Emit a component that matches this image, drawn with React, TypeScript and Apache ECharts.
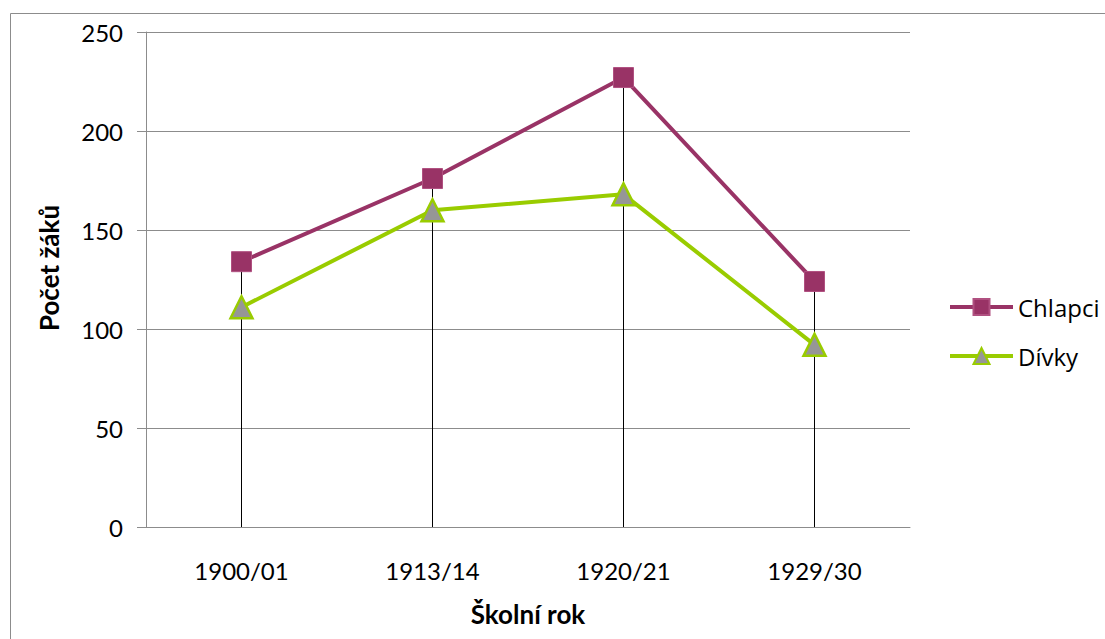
import React, { useEffect, useRef } from "react";
import * as echarts from "echarts";

const categories = ["1900/01", "1913/14", "1920/21", "1929/30"];
const chlapci = [134, 176, 227, 124];
const divky = [111, 160, 168, 92];
const yTicks = { min: 0, max: 250, interval: 50 };
const xTitle = "Školní rok";
const yTitle = "Počet žáků";

export default function App() {
  const ref = useRef<HTMLDivElement>(null);
  useEffect(() => {
    if (!ref.current) return;
    const chart = echarts.init(ref.current, null, { renderer: "svg" });
    const dropTop = chlapci.map((v, i) => Math.max(v, divky[i]));
    const font = "Lato, 'Open Sans', sans-serif";
    chart.setOption({
      animation: false,
      backgroundColor: "#ffffff",
      textStyle: { fontFamily: font },
      graphic: [
        {
          type: "rect",
          shape: { x: 10.5, y: 13.5, width: 1120, height: 650 },
          style: { fill: "none", stroke: "#8c8c8c", lineWidth: 1 },
          z: 0,
        },
        {
          type: "text",
          x: 49,
          y: 268,
          rotation: Math.PI / 2,
          style: {
            text: yTitle,
            fontSize: 26,
            fontWeight: "bold",
            fontFamily: font,
            fill: "#000",
            align: "center",
            verticalAlign: "middle",
          },
        },
      ],
      grid: { left: 146, right: 195, top: 32, bottom: 112 },
      legend: {
        data: ["Chlapci", "Dívky"],
        orient: "vertical",
        left: 943,
        top: 290,
        itemWidth: 63,
        itemHeight: 20,
        itemGap: 25,
        lineStyle: { width: 4 },
        textStyle: { fontSize: 24, color: "#000", fontFamily: "'Open Sans', sans-serif" },
      },
      xAxis: {
        type: "category",
        data: categories,
        boundaryGap: true,
        name: xTitle,
        nameLocation: "middle",
        nameGap: 74,
        nameTextStyle: { fontSize: 26, fontWeight: "bold", color: "#000", fontFamily: font },
        axisLine: { show: true, lineStyle: { color: "#8c8c8c", width: 1 } },
        axisTick: { show: false },
        axisLabel: { fontSize: 24, color: "#000", margin: 31, fontFamily: font },
        splitLine: { show: false },
      },
      yAxis: {
        type: "value",
        min: yTicks.min,
        max: yTicks.max,
        interval: yTicks.interval,
        axisLine: { show: true, lineStyle: { color: "#8c8c8c", width: 1 } },
        axisTick: { show: true, length: 9, lineStyle: { color: "#8c8c8c" } },
        axisLabel: { fontSize: 24, color: "#000", margin: 23, fontFamily: font },
        splitLine: { show: true, lineStyle: { color: "#8c8c8c", width: 1 } },
      },
      series: [
        {
          name: "drop",
          type: "bar",
          data: dropTop,
          barWidth: 1,
          itemStyle: { color: "#000000" },
          z: 1,
          silent: true,
        },
        {
          name: "Chlapci",
          type: "line",
          data: chlapci,
          symbol: "rect",
          symbolSize: 20,
          lineStyle: { color: "#993366", width: 4 },
          itemStyle: { color: "#993366", borderColor: "#b05080", borderWidth: 1 },
          z: 3,
        },
        {
          name: "Dívky",
          type: "line",
          data: divky,
          symbol: "triangle",
          symbolSize: 22,
          lineStyle: { color: "#99cc00", width: 4 },
          itemStyle: { color: "#969696", borderColor: "#99cc00", borderWidth: 2.5 },
          z: 4,
        },
      ],
    });
    return () => chart.dispose();
  }, []);
  return (
    <div
      ref={ref}
      style={{ position: "fixed", left: 0, top: 0, width: 1105, height: 639 }}
    />
  );
}
